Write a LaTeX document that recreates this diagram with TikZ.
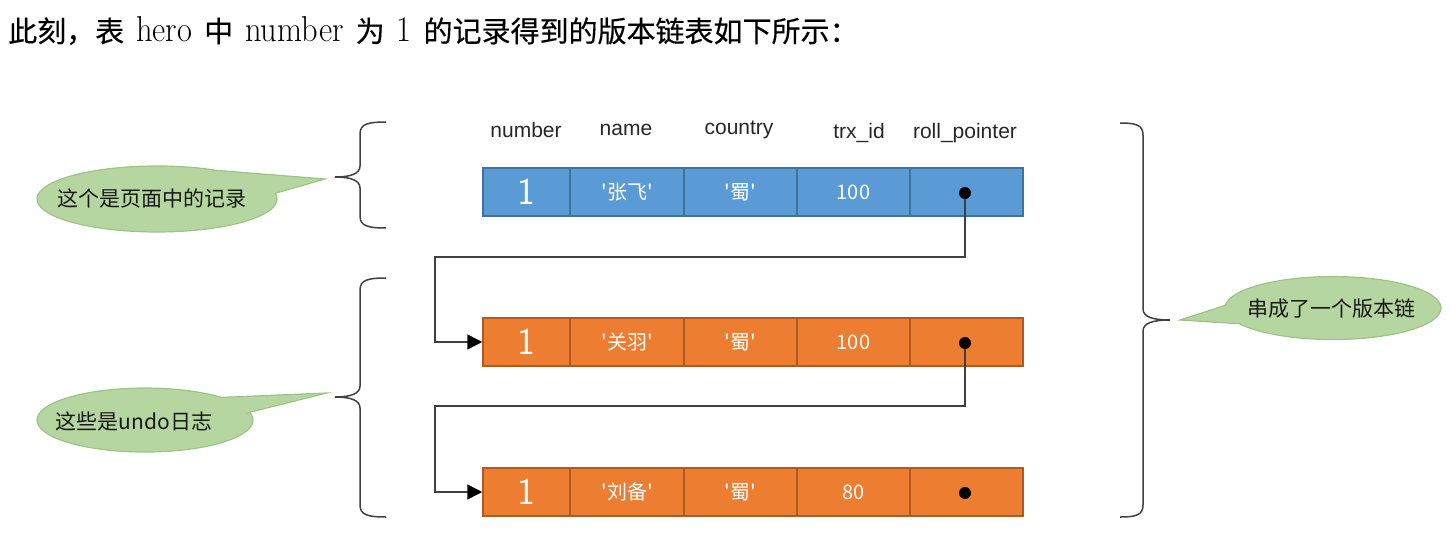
\documentclass[tikz,border=0pt]{standalone}
\usepackage{fontspec}
\usepackage{graphicx}
\newfontfamily\lib{Liberation Sans}
\newfontfamily\cjk[Ligatures=TeXOff]{Noto Sans CJK SC}
\newfontfamily\cjkt[FakeBold=0.3]{Noto Sans CJK SC}
\usetikzlibrary{arrows.meta}
\definecolor{bluef}{HTML}{5B9BD5}
\definecolor{blued}{HTML}{41719C}
\definecolor{orf}{HTML}{ED7D31}
\definecolor{ord}{HTML}{AE5A21}
\definecolor{grf}{HTML}{B5D6A0}
\definecolor{grd}{HTML}{9CC585}
\definecolor{lin}{HTML}{404040}
\newcommand\latseg[1]{\hspace{12pt}\scalebox{0.9}[1]{\rmfamily\fontsize{36}{36}\selectfont #1}\hspace{12pt}}
\begin{document}
\begin{tikzpicture}[x=1pt,y=-1pt,
  cell/.style={draw, line width=1.5pt, minimum height=48pt, inner sep=0pt, text=white, font=\cjk\fontsize{20}{20}\selectfont},
  bluecell/.style={cell, fill=bluef, draw=blued},
  orcell/.style={cell, fill=orf, draw=ord},
  bigone/.style={font=\sffamily\fontsize{38}{38}\selectfont},
  hdr/.style={font=\lib\fontsize{21}{21}\selectfont, text=black!85, inner sep=0pt},
  dotnode/.style={circle, fill=black, inner sep=0pt, minimum size=12pt},
  conn/.style={draw=lin, line width=1.5pt, -{Triangle[length=15pt,width=15pt,color=black]}},
  bracepath/.style={draw=lin, line width=1.5pt},
  callout/.style={fill=grf, draw=grd, line width=1.2pt},
  ctext/.style={font=\cjk\fontsize{21}{21}\selectfont, text=black!90, inner sep=0pt}
]
\useasboundingbox (0,0) rectangle (1450,551);

% title
\node[anchor=west, inner sep=0pt, font=\cjkt\fontsize{29}{29}\selectfont] (title) at (8,31)
  {此刻，表\latseg{hero}中\latseg{number}为\latseg{1}的记录得到的版本链表如下所示：};

% headers
\node[hdr] (h1) at (526,130) {number};
\node[hdr] (h2) at (626,130) {name};
\node[hdr] (h3) at (739,130) {country};
\node[hdr] (h4) at (859,133) {trx\_id};
\node[hdr] (h5) at (965,133) {roll\_pointer};

% row 1 (blue)
\node[bluecell, minimum width=87pt, bigone] (a1) at (526.5,192) {1};
\node[bluecell, minimum width=114pt] (a2) at (627,192) {'张飞'};
\node[bluecell, minimum width=113pt] (a3) at (740.5,192) {'蜀'};
\node[bluecell, minimum width=113pt] (a4) at (853.5,192) {100};
\node[bluecell, minimum width=113pt] (a5) at (966.5,192) {};

% row 2 (orange)
\node[orcell, minimum width=87pt, bigone] (b1) at (526.5,342) {1};
\node[orcell, minimum width=114pt] (b2) at (627,342) {'关羽'};
\node[orcell, minimum width=113pt] (b3) at (740.5,342) {'蜀'};
\node[orcell, minimum width=113pt] (b4) at (853.5,342) {100};
\node[orcell, minimum width=113pt] (b5) at (966.5,342) {};

% row 3 (orange)
\node[orcell, minimum width=87pt, bigone] (c1) at (526.5,492) {1};
\node[orcell, minimum width=114pt] (c2) at (627,492) {'刘备'};
\node[orcell, minimum width=113pt] (c3) at (740.5,492) {'蜀'};
\node[orcell, minimum width=113pt] (c4) at (853.5,492) {80};
\node[orcell, minimum width=113pt] (c5) at (966.5,492) {};

% connectors
\coordinate (k1) at (435,257);
\coordinate (k2) at (435,406);
\draw[conn] (965,193) |- (k1) |- (b1.west);
\draw[conn] (965,343) |- (k2) |- (c1.west);
\node[dotnode] (d1) at (965,193) {};
\node[dotnode] (d2) at (965,343) {};
\node[dotnode] (d3) at (965,493) {};

% braces
\draw[bracepath] (386,122) .. controls (368,122) and (360,124) .. (360,134) -- (360,166)
  .. controls (360,174) and (350,177) .. (335,177) .. controls (350,177) and (360,180) .. (360,188)
  -- (360,216) .. controls (360,226) and (368,228) .. (386,228);
\draw[bracepath] (386,278) .. controls (368,278) and (360,280) .. (360,290) -- (360,386)
  .. controls (360,394) and (350,397) .. (335,397) .. controls (350,397) and (360,400) .. (360,408)
  -- (360,505) .. controls (360,515) and (368,517) .. (386,517);
\draw[bracepath] (1120,123) .. controls (1136,123) and (1143,125) .. (1143,135) -- (1143,309)
  .. controls (1143,317) and (1153,320) .. (1170,320) .. controls (1153,320) and (1143,323) .. (1143,331)
  -- (1143,505) .. controls (1143,515) and (1136,517) .. (1120,517);

% callouts
\path[callout] (275.2,193.3) -- (325,179) -- (217,170.4)
  arc[start angle=-60, end angle=-370, x radius=120, y radius=33] -- cycle;
\node[ctext] (t1) at (152,198) {这个是页面中的记录};

\path[callout] (249.8,412.3) -- (327,393) -- (221.4,397.4)
  arc[start angle=-45, end angle=-374, x radius=108, y radius=32] -- cycle;
\node[ctext] (t2) at (134,421) {这些是undo日志};

\path[callout] (1239.5,323.75) -- (1180,320) -- (1225.4,305.3)
  arc[start angle=185, end angle=510, x radius=108, y radius=31.5] -- cycle;
\node[ctext] (t3) at (1331,309) {串成了一个版本链};
\end{tikzpicture}
\end{document}
